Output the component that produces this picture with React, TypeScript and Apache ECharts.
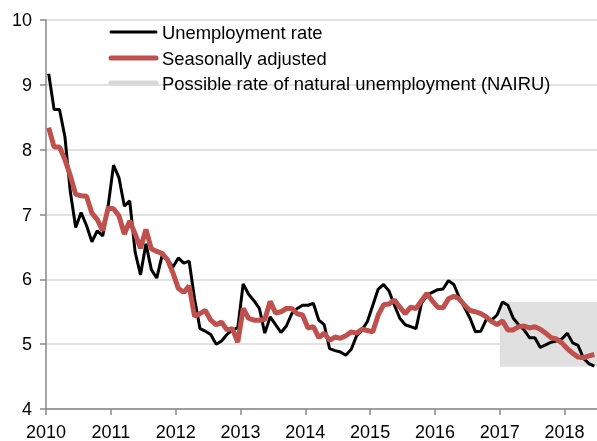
import React, { useEffect, useRef } from "react";
import * as echarts from "echarts";

const startYear = 2010;
const xTickMin = 2010;
const xTickMax = 2018.5;
const yMin = 4;
const yMax = 10;

// Monthly unemployment rate, Jan 2010 onwards
const unemploymentRate = [
  9.17, 8.62, 8.62, 8.2, 7.35, 6.8, 7.03, 6.83, 6.58, 6.75, 6.67, 7.13,
  7.76, 7.57, 7.13, 7.21, 6.42, 6.07, 6.55, 6.15, 6.02, 6.37, 6.3, 6.19,
  6.33, 6.25, 6.28, 5.7, 5.24, 5.2, 5.15, 5.0, 5.05, 5.15, 5.22, 5.25,
  5.93, 5.77, 5.67, 5.55, 5.17, 5.42, 5.3, 5.18, 5.28, 5.47, 5.55, 5.6,
  5.6, 5.63, 5.37, 5.3, 4.93, 4.9, 4.88, 4.83, 4.92, 5.13, 5.22, 5.35,
  5.6, 5.85, 5.92, 5.82, 5.6, 5.4, 5.3, 5.27, 5.24, 5.63, 5.75, 5.8,
  5.84, 5.85, 5.98, 5.92, 5.72, 5.56, 5.4, 5.19, 5.2, 5.38, 5.37, 5.45,
  5.65, 5.6, 5.4, 5.3, 5.22, 5.1, 5.1, 4.95, 4.99, 5.03, 5.05, 5.08,
  5.17, 5.02, 4.98, 4.78, 4.7, 4.66,
];

const seasonallyAdjusted = [
  8.34, 8.04, 8.04, 7.85, 7.6, 7.31, 7.29, 7.28, 7.02, 6.92, 6.75, 7.1,
  7.09, 6.98, 6.7, 6.9, 6.7, 6.48, 6.77, 6.47, 6.43, 6.4, 6.3, 6.1,
  5.86, 5.8, 5.9, 5.43, 5.47, 5.52, 5.37, 5.3, 5.34, 5.22, 5.24, 5.03,
  5.55, 5.4, 5.37, 5.37, 5.38, 5.66, 5.48, 5.5, 5.55, 5.55, 5.47, 5.45,
  5.25, 5.27, 5.1, 5.17, 5.06, 5.11, 5.09, 5.13, 5.19, 5.17, 5.23, 5.21,
  5.19, 5.45, 5.61, 5.62, 5.68, 5.57, 5.47, 5.57, 5.55, 5.67, 5.78, 5.67,
  5.57, 5.56, 5.7, 5.74, 5.7, 5.6, 5.52, 5.5, 5.47, 5.42, 5.35, 5.3,
  5.36, 5.22, 5.22, 5.27, 5.28, 5.25, 5.27, 5.23, 5.17, 5.1, 5.08, 5.02,
  4.93, 4.86, 4.8, 4.79, 4.82, 4.84,
];

const nairuStart = 2017;
const nairuEnd = 2018.5;
const nairuLow = 4.65;
const nairuHigh = 5.65;

const seriesNames = [
  "Unemployment rate",
  "Seasonally adjusted",
  "Possible rate of natural unemployment (NAIRU)",
];
const seriesColors = ["#000000", "#c0504d", "#d9d9d9"];
const seriesWidths = [3, 5, 5];

const monthX = (i: number) => startYear + (i + 0.5) / 12;

export default function App() {
  const ref = useRef<HTMLDivElement>(null);
  useEffect(() => {
    if (!ref.current) return;
    const chart = echarts.init(ref.current, undefined, { renderer: "svg" });
    const font = "Liberation Sans, Arial, sans-serif";
    const legendRows = [32, 58, 83];
    const legendGraphics: any[] = [];
    seriesNames.forEach((name, k) => {
      legendGraphics.push({
        type: "line",
        shape: { x1: 111, y1: legendRows[k], x2: 156, y2: legendRows[k] },
        style: { stroke: seriesColors[k], lineWidth: seriesWidths[k], lineCap: "round" },
        z: 100,
      });
      legendGraphics.push({
        type: "text",
        x: 162,
        y: legendRows[k],
        style: {
          text: name,
          font: `18.4px ${font}`,
          fill: "#000",
          verticalAlign: "middle",
          align: "left",
        },
        z: 100,
      });
    });
    chart.setOption({
      animation: false,
      grid: { left: 46, right: 0, top: 20, bottom: 30, containLabel: false },
      graphic: legendGraphics,
      xAxis: {
        type: "value",
        min: xTickMin,
        max: xTickMax,
        interval: 1,
        axisLine: { show: true, lineStyle: { color: "#888", width: 1.5 } },
        axisTick: { show: true, length: 6, lineStyle: { color: "#888", width: 1.5 } },
        axisLabel: {
          fontSize: 18,
          color: "#000",
          fontFamily: font,
          margin: 14,
          showMaxLabel: false,
          formatter: (v: number) => (Number.isInteger(v) ? String(v) : ""),
        },
        splitLine: { show: false },
      },
      yAxis: {
        type: "value",
        min: yMin,
        max: yMax,
        interval: 1,
        axisLine: { show: true, lineStyle: { color: "#888", width: 1.5 } },
        axisTick: { show: true, length: 6, lineStyle: { color: "#888", width: 1.5 } },
        axisLabel: { fontSize: 18, color: "#000", fontFamily: font, margin: 14 },
        splitLine: { show: true, lineStyle: { color: "#d9d9d9", width: 1.5 } },
      },
      series: [
        {
          name: seriesNames[2],
          type: "line",
          data: [],
          symbol: "none",
          color: seriesColors[2],
          lineStyle: { color: seriesColors[2], width: seriesWidths[2] },
          markArea: {
            silent: true,
            itemStyle: { color: "#e0e0e0" },
            data: [[{ xAxis: nairuStart, yAxis: nairuLow }, { xAxis: nairuEnd, yAxis: nairuHigh }]],
          },
        },
        {
          name: seriesNames[0],
          type: "line",
          data: unemploymentRate.map((v, i) => [monthX(i), v]),
          symbol: "none",
          color: seriesColors[0],
          lineStyle: { color: seriesColors[0], width: seriesWidths[0] },
          z: 3,
        },
        {
          name: seriesNames[1],
          type: "line",
          data: seasonallyAdjusted.map((v, i) => [monthX(i), v]),
          symbol: "none",
          color: seriesColors[1],
          lineStyle: { color: seriesColors[1], width: seriesWidths[1] },
          z: 4,
        },
      ],
    });
    return () => chart.dispose();
  }, []);
  return (
    <div
      ref={ref}
      style={{ position: "fixed", left: 0, top: 0, width: 597, height: 441 }}
    />
  );
}
